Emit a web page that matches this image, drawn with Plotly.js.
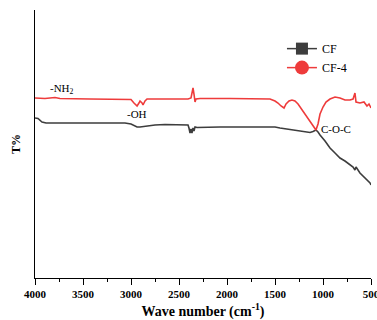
<!DOCTYPE html>
<html>
<head>
<meta charset="utf-8">
<script src="https://cdn.plot.ly/plotly-3.0.1.min.js"></script>
<style>html,body{margin:0;padding:0;background:#fff;}#chart{width:377px;height:320px;}</style>
</head>
<body>
<div id="chart"></div>
<script>
// Wavenumber (cm^-1) and relative transmittance (arbitrary units)
var cf4Wave = [4000,3896,3792,3740,3427,3063,3000,2969,2937,2917,2906,2885,2875,2854,2833,2594,2406,2375,2365,2354,2344,2333,2323,2281,1969,1656,1552,1500,1469,1437,1406,1385,1354,1323,1292,1260,1219,1177,1135,1104,1073,1052,1031,1000,969,927,875,823,771,719,687,667,656,615,573,542,521,500];
var cf4T    = [180,179.5,180.5,179.5,179,179,178.5,175,172,175,177,175,173,177,179,179,179,180,185,190,184,176,179,179.5,179.5,179.5,179,177,175,172,170,174,177,178,177,174,168,162,156,152,148,154,164,171,176,179,181,180,178,178,179,185,176,175,176,172,174,170];
var cfWave  = [4000,3969,3927,3885,3740,3323,3063,3000,2969,2937,2906,2875,2823,2750,2646,2490,2406,2396,2385,2375,2365,2354,2344,2333,2312,2073,1760,1500,1448,1375,1271,1187,1135,1104,1073,1052,1031,979,927,875,823,771,719,687,667,656,615,562,510,500];
var cfT     = [160,159.5,156,155,155,155,155,154,152.5,151,151,151.5,152,153,153.5,153.5,153,150,145,149,145,150,147,151,150.5,151,151,151,150,149,147,146,145.5,146.5,148,146,143,137,130,125,120,117,113,111,108,111,105,100,95,93];
var legendNames = ["CF", "CF-4"];
var labelTexts = ["-NH<sub>2</sub>", "-OH", "C-O-C"];
var labelWave = [3719, 2937, 865];
var labelT = [189, 164, 149];

var red = "#ee3b3b", dark = "#3d3d3d";
var serif = "Liberation Serif, Times New Roman, serif";

var traces = [
  {x: cfWave, y: cfT, mode: "lines", line: {color: dark, width: 1.6}, showlegend: false, hoverinfo: "skip"},
  {x: cf4Wave, y: cf4T, mode: "lines", line: {color: red, width: 1.6}, showlegend: false, hoverinfo: "skip"},
  {x: [null], y: [null], name: legendNames[0], mode: "lines+markers", line: {color: dark, width: 1.5}, marker: {symbol: "square", size: 12, color: dark}},
  {x: [null], y: [null], name: legendNames[1], mode: "lines+markers", line: {color: red, width: 1.5}, marker: {symbol: "circle", size: 14, color: red}}
];

var annotations = labelTexts.map(function(t, i){
  return {x: labelWave[i], y: labelT[i], xref: "x", yref: "y", text: t, showarrow: false,
          font: {family: serif, size: 11, color: "#000"}};
});

var layout = {
  width: 377, height: 320,
  margin: {l: 35, r: 6, t: 10, b: 42, pad: 0},
  paper_bgcolor: "#fff", plot_bgcolor: "#fff",
  font: {family: serif, color: "#000"},
  showlegend: true,
  legend: {x: 0.735, y: 0.91, xanchor: "left", yanchor: "top", bgcolor: "rgba(0,0,0,0)",
           font: {family: serif, size: 12, color: "#000"}, tracegroupgap: 0},
  xaxis: {
    range: [4000, 500], autorange: false,
    tickmode: "array", tickvals: [4000,3500,3000,2500,2000,1500,1000,500],
    ticktext: ["4000","3500","3000","2500","2000","1500","1000","500"],
    ticks: "outside", ticklen: 6, tickwidth: 1, tickcolor: "#000",
    ticklabeloverflow: "allow",
    minor: {tickvals: [3750,3250,2750,2250,1750,1250,750], ticks: "outside", ticklen: 3, tickcolor: "#000"},
    showline: true, linecolor: "#000", linewidth: 1, mirror: false,
    showgrid: false, zeroline: false,
    tickfont: {family: serif, size: 11, color: "#000", weight: "bold"},
    title: {text: "<b>Wave number (cm<sup>-1</sup>)</b>", font: {family: serif, size: 14, color: "#000"}, standoff: 13}
  },
  yaxis: {
    range: [0, 268], autorange: false,
    showticklabels: false, ticks: "",
    showline: true, linecolor: "#000", linewidth: 1,
    showgrid: false, zeroline: false,
    title: {text: "<b>T%</b>", font: {family: serif, size: 12, color: "#000"}, standoff: 10}
  },
  annotations: annotations
};

Plotly.newPlot("chart", traces, layout, {displayModeBar: false, staticPlot: true});
</script>
</body>
</html>
